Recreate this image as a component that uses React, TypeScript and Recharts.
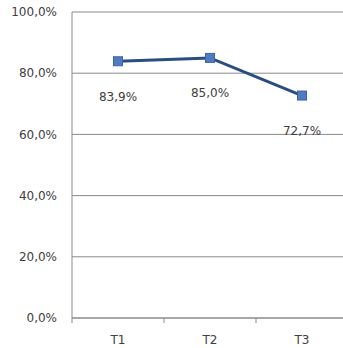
import { CartesianGrid, LabelList, Line, LineChart, XAxis, YAxis } from "recharts";

const categories = ["T1", "T2", "T3"];
const values = [0.839, 0.85, 0.727];
const yTicks = [0, 0.2, 0.4, 0.6, 0.8, 1];

const data = categories.map((name, i) => ({ name, value: values[i] }));

const pct = (v: number) => `${(v * 100).toFixed(1).replace(".", ",")}%`;

const font = "'DejaVu Sans', Verdana, sans-serif";
const grey = "#8a8a8a";

function Marker(props: any) {
  const { cx, cy } = props;
  if (cx == null || cy == null) return null;
  return <rect x={cx - 4.5} y={cy - 4.5} width={9} height={9} fill="#4F7CC0" stroke="#3B64A8" strokeWidth={1} />;
}

// category label centred in its band, plus tick marks on the band edges
function CatTick(props: any) {
  const { x, y, payload, index, visibleTicksCount } = props;
  const half = payload.offset ?? 0;
  const last = index === visibleTicksCount - 1;
  return (
    <g>
      <line x1={x - half} x2={x - half} y1={y} y2={y + 5} stroke={grey} />
      {last && <line x1={x + half} x2={x + half} y1={y} y2={y + 5} stroke={grey} />}
      <text x={x} y={y} dy={26} textAnchor="middle" fontSize={12} fill="#404040" fontFamily={font}>
        {payload.value}
      </text>
    </g>
  );
}

export default function App() {
  return (
    <div style={{ position: "absolute", left: 0, top: 0, width: 343, height: 348, overflow: "hidden", background: "#fff" }}>
      <LineChart width={348} height={348} data={data} margin={{ top: 12, right: 0, left: 0, bottom: 0 }}>
        <CartesianGrid vertical={false} stroke={grey} />
        <XAxis
          dataKey="name"
          scale="band"
          height={30}
          axisLine={{ stroke: grey }}
          tickLine={false}
          tickSize={0}
          tickMargin={0}
          tick={<CatTick />}
        />
        <YAxis
          domain={[0, 1]}
          ticks={yTicks}
          width={72}
          tickLine={false}
          tickMargin={9}
          axisLine={{ stroke: grey }}
          tickFormatter={pct}
          tick={{ fontSize: 12, fill: "#404040", fontFamily: font }}
        />
        <Line
          dataKey="value"
          stroke="#2A4C80"
          strokeWidth={3}
          dot={<Marker />}
          isAnimationActive={false}
        >
          <LabelList
            dataKey="value"
            position="bottom"
            offset={31}
            formatter={(v: any) => pct(Number(v))}
            style={{ fontSize: 12, fill: "#404040", fontFamily: font }}
          />
        </Line>
      </LineChart>
    </div>
  );
}
